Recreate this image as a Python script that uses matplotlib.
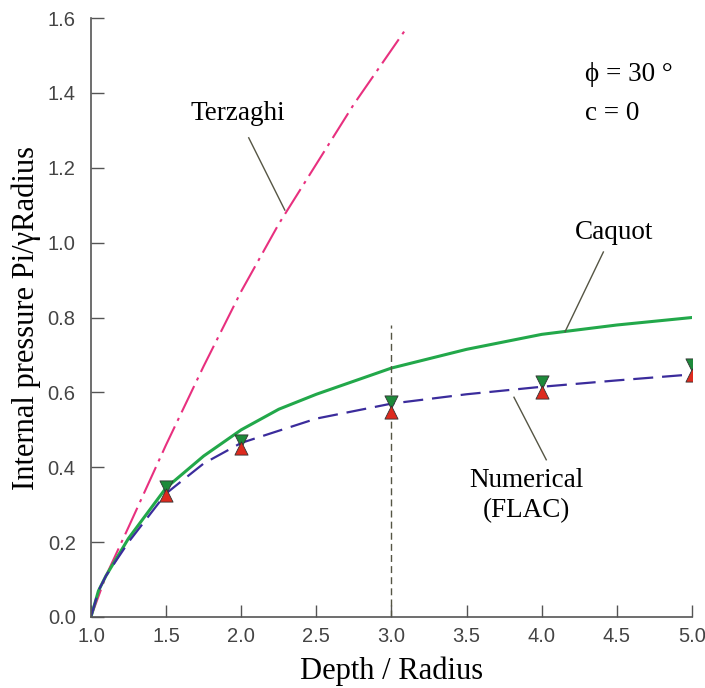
import matplotlib.pyplot as plt

# data
terz_x = [1.0, 1.1, 1.25, 1.5, 1.75, 2.0, 2.25, 2.5, 2.75, 3.0, 3.1]
terz_y = [0.0, 0.11, 0.24, 0.46, 0.67, 0.87, 1.05, 1.21, 1.37, 1.515, 1.573]

caq_x = [1.0, 1.05, 1.1, 1.25, 1.5, 1.75, 2.0, 2.25, 2.5, 2.75, 3.0, 3.5, 4.0, 4.5, 5.0]
caq_y = [0.0, 0.07, 0.11, 0.21, 0.345, 0.43, 0.50, 0.555, 0.595, 0.63, 0.665, 0.715, 0.755, 0.78, 0.80]

num_x = [1.0, 1.05, 1.1, 1.25, 1.5, 1.75, 2.0, 2.5, 3.0, 3.5, 4.0, 4.5, 5.0]
num_y = [0.0, 0.07, 0.11, 0.20, 0.33, 0.41, 0.465, 0.53, 0.57, 0.595, 0.615, 0.632, 0.648]

mk_x = [1.5, 2.0, 3.0, 4.0, 5.0]
mk_green = [0.347, 0.470, 0.574, 0.628, 0.672]
mk_red = [0.325, 0.452, 0.548, 0.601, 0.646]

xticks = [1.0, 1.5, 2.0, 2.5, 3.0, 3.5, 4.0, 4.5, 5.0]
yticks = [0.0, 0.2, 0.4, 0.6, 0.8, 1.0, 1.2, 1.4, 1.6]

serif = ['Liberation Serif', 'DejaVu Serif']

fig = plt.figure(figsize=(7.05, 6.88), dpi=100)
ax = fig.add_axes([0.129, 0.1032, 0.8526, 0.8706])

ax.plot(terz_x, terz_y, color='#e8307f', lw=1.5, linestyle=(0, (14, 3, 1.5, 3)))
ax.plot(caq_x, caq_y, color='#22a84a', lw=2.2)
ax.plot(num_x, num_y, color='#3b2c9c', lw=1.6, linestyle=(0, (9, 4)))

ax.plot([3.0, 3.0], [0.0, 0.78], color='#555544', lw=1, linestyle=(0, (5, 3)))

ax.scatter(mk_x, mk_green, marker='v', s=90, color='#1d8a3a', edgecolors='#333333',
           linewidths=0.6, zorder=5)
ax.scatter(mk_x, mk_red, marker='^', s=90, color='#dd2a1e', edgecolors='#333333',
           linewidths=0.6, zorder=5)

# annotations
fs = 19.5
ax.text(1.98, 1.346, 'Terzaghi', family=serif, fontsize=fs, ha='center', va='center')
ax.plot([2.05, 2.29], [1.28, 1.087], color='#555544', lw=1)
ax.text(4.48, 1.028, 'Caquot', family=serif, fontsize=fs, ha='center', va='center')
ax.plot([4.41, 4.155], [0.975, 0.762], color='#555544', lw=1)
ax.text(3.90, 0.325, 'Numerical\n(FLAC)', family=serif, fontsize=fs, ha='center',
        va='center', linespacing=1.25)
ax.plot([3.815, 4.03], [0.587, 0.42], color='#555544', lw=1)
ax.text(4.29, 1.448, '\u03d5 = 30 \u00b0', family=serif, fontsize=fs, ha='left', va='center')
ax.text(4.29, 1.346, 'c = 0', family=serif, fontsize=fs, ha='left', va='center')

ax.set_xlim(1.0, 5.0)
ax.set_ylim(0.0, 1.6)
ax.set_xticks(xticks)
ax.set_yticks(yticks)
ax.set_xticklabels(['%.1f' % t for t in xticks])
ax.set_yticklabels(['%.1f' % t for t in yticks])
ax.tick_params(direction='in', length=9, width=1, color='#555555', labelcolor='#444444',
               labelsize=14.5)
ax.tick_params(axis='y', pad=11)
ax.tick_params(axis='x', pad=7)
for lab in ax.get_xticklabels() + ax.get_yticklabels():
    lab.set_family('Liberation Sans')

for s in ['top', 'right']:
    ax.spines[s].set_visible(False)
for s in ['left', 'bottom']:
    ax.spines[s].set_color('#555555')
    ax.spines[s].set_linewidth(1.2)

ax.set_xlabel('Depth / Radius', family=serif, fontsize=22, labelpad=8)
ax.set_ylabel('Internal pressure Pi/\u03b3Radius', family=serif, fontsize=22)
ax.yaxis.set_label_coords(-0.083, 0.5)

fig.savefig('out.png', dpi=100)
